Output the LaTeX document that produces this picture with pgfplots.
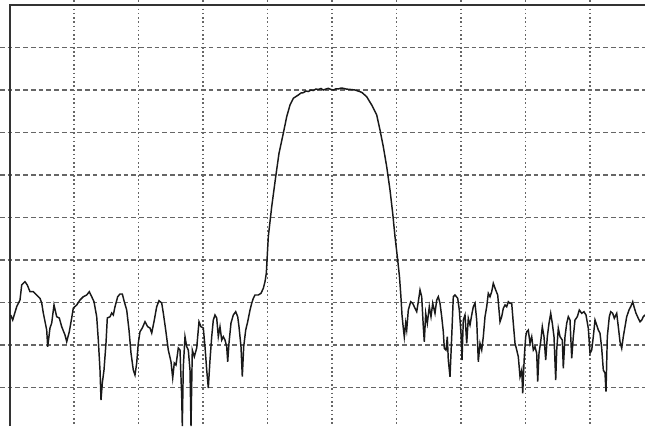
\documentclass[border=0pt]{standalone}
\usepackage{pgfplots}
\pgfplotsset{compat=1.18}

\begin{document}
\begin{tikzpicture}
\begin{axis}[
    scale only axis,
    width=483.75pt, height=319.5pt,
    xmin=0, xmax=645, ymin=0, ymax=426,
    y dir=reverse,
    axis line style={draw=none},
    xtick={74,138.5,203,267.5,332,396.5,461,525.5,590},
    ytick={47.5,90,132.5,175,217.5,260,302.5,345,387.5},
    xticklabels={}, yticklabels={},
    major tick length=0pt,
    xmajorgrids, ymajorgrids,
    x grid style={color=black!60, line width=1pt, dash pattern=on 1.2pt off 2pt},
    y grid style={color=black!60, line width=0.9pt, dash pattern=on 3.5pt off 2.3pt},
]
% frame (left and top edges)
\addplot[black!80, line width=1.5pt] coordinates {(9.5,426) (9.5,5) (645,5)};

% trace
\addplot[black!90, line width=1.1pt] coordinates {
(10.7,315) (12.7,320) (16.7,306.7) (20,300) (21.7,285) (25,281.7) (27.3,285) (30,291.7)
(33.3,291.7) (36.7,295) (40,298.3) (41.7,303) (43.3,313) (46.7,330) (47.7,346.7) (50,328)
(51.7,323) (54,305) (56.7,316.7) (59.3,318) (61.7,326.7) (65,335) (66.7,341.7) (69.3,331.7)
(71.7,318) (73.3,308) (76.7,305) (80,300) (83.3,296.7) (86.7,295) (89.3,291.7) (91.7,296.7)
(94,301.7) (96.7,316.7) (98.3,340) (100,370) (101,400) (102.3,383) (104,370) (106,343)
(107.3,318) (110,316.7) (111.7,313) (113.3,315) (115,306.7) (117.7,296.7) (120,294) (122.3,294)
(124.3,301.7) (126.7,310) (129,330) (131,353) (133.3,370) (135,375) (136.7,363) (138.3,343)
(140,331.7) (142.3,328) (145,321.7) (147.7,326.7) (150,328) (151.7,333) (154.3,320) (156.7,306.7)
(159,300.7) (161.7,303) (163.3,313) (165.7,330) (168.3,350) (171,361.7) (172.7,378) (174.3,363)
(176,365) (178.3,348) (180,350) (181.7,396.7) (182.3,426) (183.3,366.7) (185,336.7) (186.7,346.7)
(188.3,350) (190,370) (191,426) (192.3,350) (194.3,356.7) (196.7,348) (199,321.7) (201,326.7)
(203.3,328) (205,346.7) (206.7,370) (208.3,388) (210,360) (211.7,336.7) (213.3,320) (215,315)
(216.7,318) (218.3,336.7) (220,326.7) (221.7,340) (223.3,336.7) (225,340) (226.7,346.7) (227.7,361.7)
(229,343) (231,323) (233.3,315) (235.7,311.7) (237.7,316.7) (239,326.7) (241,346.7) (242.3,376.7)
(243.7,346.7) (245.7,330) (247.7,321.7) (250,310) (251.7,303.3) (253.3,298.3) (255,295) (258.3,295)
(261,293.3) (263.3,288.3) (265,281.7) (266.3,273.3) (268.3,236.7) (271.7,206.7) (275.7,176.7) (279,153.3)
(283.3,133.3) (286.7,116.7) (290,105) (293.3,98.3) (298.3,95) (301,93) (303.3,92.7) (306,91)
(308.3,91.5) (311,90) (313.3,90.5) (316,89) (318.3,89.5) (321,88.5) (323.3,90) (326,89)
(328.3,88.3) (331,89.5) (333.3,90) (336,88.8) (338.3,89) (341,88) (343.3,88.3) (346,89)
(348.3,89.3) (351,89.5) (355,90) (361.7,92.3) (366.7,96.7) (371.7,105) (376.7,115) (380,130)
(383.3,146.7) (386.7,166.7) (390,190) (392.7,213.3) (395,236.7) (397.7,260) (399.5,277) (400.8,295)
(402,315) (403.3,328) (404.3,337) (405.7,323) (406.7,330) (408.3,310) (410.7,301.7) (412.7,303.3)
(415,308.3) (416.7,311.7) (418.3,301.7) (420,290) (421.7,296.7) (423.3,326.7) (424.3,341.7) (425.7,313.3)
(427.3,323.3) (429.3,306.7) (431,316.7) (432.7,303.3) (435,313.3) (436.7,300) (438.3,296.7) (440,303.3)
(441.7,316.7) (443.3,331.7) (444.3,348.3) (446,350) (447.3,336.7) (448.3,360) (450,376.7) (451.7,336.7)
(453.3,296.7) (455,295) (457.7,298.3) (459.3,310) (461,333.3) (462,360) (463.3,320) (465,315)
(466.7,343.3) (468.3,318.3) (470,325) (471.7,315) (473.3,306.7) (475,303.3) (476.7,320) (478.3,361.7)
(480,343.3) (481.7,350) (483.3,336.7) (485,316.7) (486.7,306.7) (488.3,293.3) (490,296.7) (491.7,291.7)
(493.3,283.3) (495.7,290) (497.7,295) (499,310) (500,321.7) (501.7,316.7) (503.3,308.3) (505,305)
(506.7,306.7) (508.3,301.7) (510,303.3) (511.7,303.3) (513.3,323.3) (515,343.3) (516.7,350) (518.3,356.7)
(520,376.7) (521.7,370) (522.7,393.3) (524.3,356.7) (525.7,336.7) (526.7,331.7) (528.3,330) (530,343.3)
(531.7,336.7) (533.3,350) (535,346.7) (536.7,353.3) (537.7,381.7) (539,353.3) (540.7,341.7) (542.3,326.7)
(544,336.7) (545.7,360) (547.3,336.7) (549,323.3) (550.7,313.3) (552.3,323.3) (554,336.7) (555.7,380)
(556.7,350) (558.3,328.3) (560,336.7) (562.3,340) (563.3,368.3) (565,336.7) (566.7,323.3) (568.3,316.7)
(570,320) (571.7,358.3) (573.3,336.7) (575,320) (577.3,316.7) (579.3,310) (581.7,313.3) (584,311.7)
(586,315) (588.3,328.3) (590,353.3) (591.7,350) (593.3,336.7) (595,320) (596.7,325) (598.3,330)
(600,333.3) (601.7,348.3) (603.3,370) (605,373.3) (606,391.7) (607.3,336.7) (609.3,316.7) (610.7,311.7)
(612.7,313.3) (614.3,318.3) (616.7,313.3) (618.3,326.7) (620,341.7) (621.7,348.3) (623.3,336.7) (625,326.7)
(626.7,316.7) (629,310) (630.7,306.7) (632.7,301.7) (634,306.7) (636,313.3) (638.3,318.3) (640,321.7)
(641.7,320) (643.3,316.7) (645,315)
};
\end{axis}
\pgfresetboundingbox
\useasboundingbox (current axis.south west) rectangle (current axis.north east);
\end{tikzpicture}
\end{document}
